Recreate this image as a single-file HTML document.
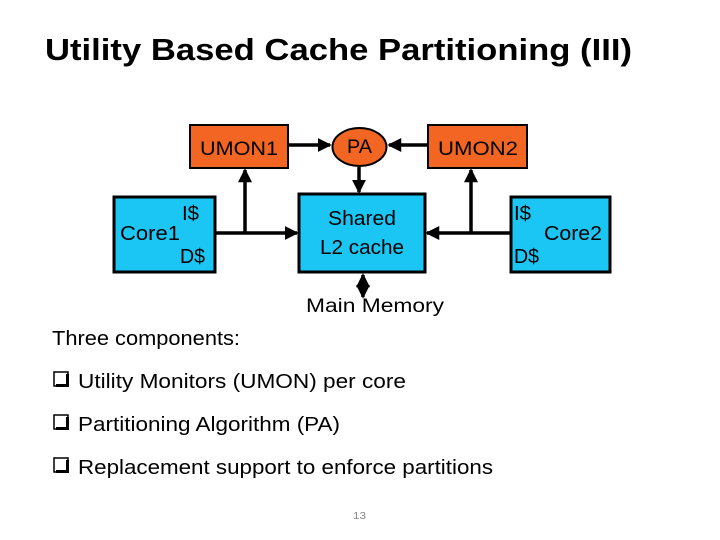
<!DOCTYPE html>
<html><head><meta charset="utf-8"><style>
html,body{margin:0;padding:0;background:#fff;}
svg{display:block;}
text{font-family:"Liberation Sans",sans-serif;fill:#000;}
</style></head><body>
<svg width="720" height="540" viewBox="0 0 720 540" xmlns="http://www.w3.org/2000/svg">
<defs>
<marker id="ah" markerWidth="4" markerHeight="4" refX="3.5" refY="2" orient="auto" markerUnits="strokeWidth">
<path d="M0,0 L4,2 L0,4 z" fill="#000"/></marker>
<marker id="ahs" markerWidth="4" markerHeight="4" refX="0.5" refY="2" orient="auto" markerUnits="strokeWidth">
<path d="M4,0 L0,2 L4,4 z" fill="#000"/></marker>
</defs>
<text x="45" y="60" font-size="31" font-weight="bold" textLength="587" lengthAdjust="spacingAndGlyphs">Utility Based Cache Partitioning (III)</text>

<!-- boxes -->
<rect x="190" y="125" width="98" height="43" fill="#f26522" stroke="#000" stroke-width="2"/>
<text x="200" y="155" font-size="19" textLength="78" lengthAdjust="spacingAndGlyphs">UMON1</text>
<rect x="428" y="125" width="99" height="43" fill="#f26522" stroke="#000" stroke-width="2"/>
<text x="438" y="155" font-size="19" textLength="80" lengthAdjust="spacingAndGlyphs">UMON2</text>
<ellipse cx="359.5" cy="147" rx="27" ry="19" fill="#f26522" stroke="#000" stroke-width="2"/>
<text x="347" y="153" font-size="19" textLength="25" lengthAdjust="spacingAndGlyphs">PA</text>

<rect x="114" y="197" width="101" height="75" fill="#1cc6f4" stroke="#000" stroke-width="3"/>
<text x="120" y="240" font-size="20" textLength="60" lengthAdjust="spacingAndGlyphs">Core1</text>
<text x="182" y="220" font-size="20" textLength="17" lengthAdjust="spacingAndGlyphs">I$</text>
<text x="180" y="263" font-size="20" textLength="25" lengthAdjust="spacingAndGlyphs">D$</text>

<rect x="299" y="194" width="126" height="78" fill="#1cc6f4" stroke="#000" stroke-width="3"/>
<text x="362" y="225" font-size="20" text-anchor="middle" textLength="68" lengthAdjust="spacingAndGlyphs">Shared</text>
<text x="362" y="254" font-size="20" text-anchor="middle" textLength="84" lengthAdjust="spacingAndGlyphs">L2 cache</text>

<rect x="511" y="197" width="99" height="75" fill="#1cc6f4" stroke="#000" stroke-width="3"/>
<text x="514" y="220" font-size="20" textLength="17" lengthAdjust="spacingAndGlyphs">I$</text>
<text x="544" y="240" font-size="20" textLength="58" lengthAdjust="spacingAndGlyphs">Core2</text>
<text x="514" y="263" font-size="20" textLength="25" lengthAdjust="spacingAndGlyphs">D$</text>

<!-- connectors -->
<g stroke="#000" stroke-width="3.5" fill="none">
<line x1="288" y1="145" x2="330" y2="145" marker-end="url(#ah)"/>
<line x1="428" y1="145" x2="389" y2="145" marker-end="url(#ah)"/>
<line x1="359" y1="167" x2="359" y2="192" marker-end="url(#ah)"/>
<line x1="215" y1="233" x2="297" y2="233" marker-end="url(#ah)"/>
<line x1="245" y1="233" x2="245" y2="170" marker-end="url(#ah)"/>
<line x1="510" y1="233" x2="427" y2="233" marker-end="url(#ah)"/>
<line x1="471" y1="233" x2="471" y2="170" marker-end="url(#ah)"/>
<line x1="363" y1="275" x2="363" y2="297" marker-start="url(#ahs)" marker-end="url(#ah)"/>
</g>
<text x="306" y="312" font-size="19" textLength="138" lengthAdjust="spacingAndGlyphs">Main Memory</text>

<text x="52" y="345" font-size="20" textLength="188" lengthAdjust="spacingAndGlyphs">Three components:</text>
<g fill="#fff" stroke="#000" stroke-width="1.5">
<rect x="54" y="372" width="14" height="14"/>
<rect x="54" y="415" width="14" height="14"/>
<rect x="54" y="458" width="14" height="14"/>
</g>
<g fill="#000">
<rect x="56" y="384" width="13" height="3"/><rect x="66" y="374" width="3" height="13"/>
<rect x="56" y="427" width="13" height="3"/><rect x="66" y="417" width="3" height="13"/>
<rect x="56" y="470" width="13" height="3"/><rect x="66" y="460" width="3" height="13"/>
</g>
<text x="78" y="388" font-size="20" textLength="328" lengthAdjust="spacingAndGlyphs">Utility Monitors (UMON) per core</text>
<text x="78" y="431" font-size="20" textLength="262" lengthAdjust="spacingAndGlyphs">Partitioning Algorithm (PA)</text>
<text x="78" y="474" font-size="20" textLength="415" lengthAdjust="spacingAndGlyphs">Replacement support to enforce partitions</text>
<text x="353" y="519" font-size="10" fill="#888" style="fill:#888" textLength="13" lengthAdjust="spacingAndGlyphs">13</text>
</svg>
</body></html>
